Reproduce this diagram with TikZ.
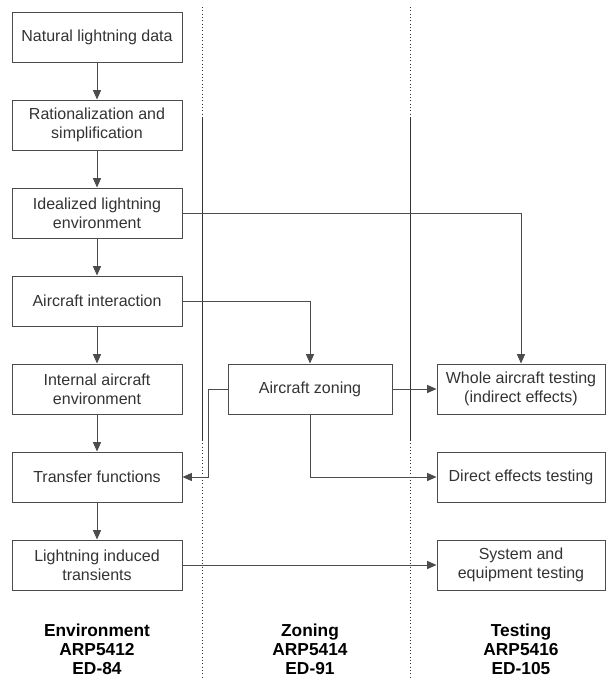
\documentclass[tikz,border=0pt]{standalone}
\usepackage{fontspec}
\setmainfont{Liberation Sans}
\usetikzlibrary{positioning,arrows.meta}

\begin{document}
\begin{tikzpicture}[->,>={Triangle[length=7pt,width=6pt]},shorten >=0pt,
		node distance=27.75pt and 33.75pt,line width=0.75pt,color=black!70,
		box/.style={rectangle,draw=black!70,minimum width=127.5pt,minimum height=37.5pt,
			align=center,text=black!80,font=\fontsize{12}{14}\selectfont},
		zone box/.style={box,minimum width=123pt},
		test box/.style={box,minimum width=126pt},
		tag/.style={align=center,text=black,font=\bfseries\fontsize{13}{14.5}\selectfont},
		sep/.style={-,line width=0.5pt,black!80}]
		\useasboundingbox (0,0) rectangle (454.5pt,-509.25pt);
		% Environment
		\node[box] (e1) at (72.75pt,-27.75pt) {Natural lightning data};
		\node[box] (e2) [below=of e1] {Rationalization and\\simplification};
		\node[box] (e3) [below=of e2] {Idealized lightning\\environment};
		\node[box] (e4) [below=of e3] {Aircraft interaction};
		\node[box] (e5) [below=of e4] {Internal aircraft\\environment};
		\node[box] (e6) [below=of e5] {Transfer functions};
		\node[box] (e7) [below=of e6] {Lightning induced\\transients};
		% Zoning
		\node[zone box] (z1) [right=of e5] {Aircraft zoning};
		% Testing
		\node[test box] (t1) [right=33pt of z1] {Whole aircraft testing\\(indirect effects)};
		\node[test box] (t2) [below=of t1] {Direct effects testing};
		\node[test box] (t3) [below=of t2] {System and\\equipment testing};
		
		% labels
		\node[tag] (le) [below=21pt of e7] {Environment\\ARP5412\\ED-84};
		\node[tag] (lz) at (z1 |- le) {Zoning\\ARP5414\\ED-91};
		\node[tag] (lt) at (t1 |- le) {Testing\\ARP5416\\ED-105};
		
		% separators
		\draw[sep,dotted] (151.5pt,-5.25pt) -- (151.5pt,-87.75pt);
		\draw[sep] (151.5pt,-87.75pt) -- (151.5pt,-330pt);
		\draw[sep,dotted] (151.5pt,-330pt) -- (151.5pt,-509.25pt);
		\draw[sep,dotted] (307.5pt,-5.25pt) -- (307.5pt,-87.75pt);
		\draw[sep] (307.5pt,-87.75pt) -- (307.5pt,-330pt);
		\draw[sep,dotted] (307.5pt,-330pt) -- (307.5pt,-509.25pt);
		
		\draw (e1) -- (e2);
		\draw (e2) -- (e3);
		\draw (e3) -- (e4);
		\draw (e4) -- (e5);
		\draw (e5) -- (e6);
		\draw (e6) -- (e7);
		\draw (e3.east) -| (t1.north);
		\draw (e4.east) -| (z1.north);
		\draw (z1) -- (t1);
		\draw (z1.west) -- ++(-14.25pt,0) |- (e6.east);
		\draw (z1.south) |- (t2.west);
		\draw (e7) -- (t3);
		
\end{tikzpicture}
\end{document}
